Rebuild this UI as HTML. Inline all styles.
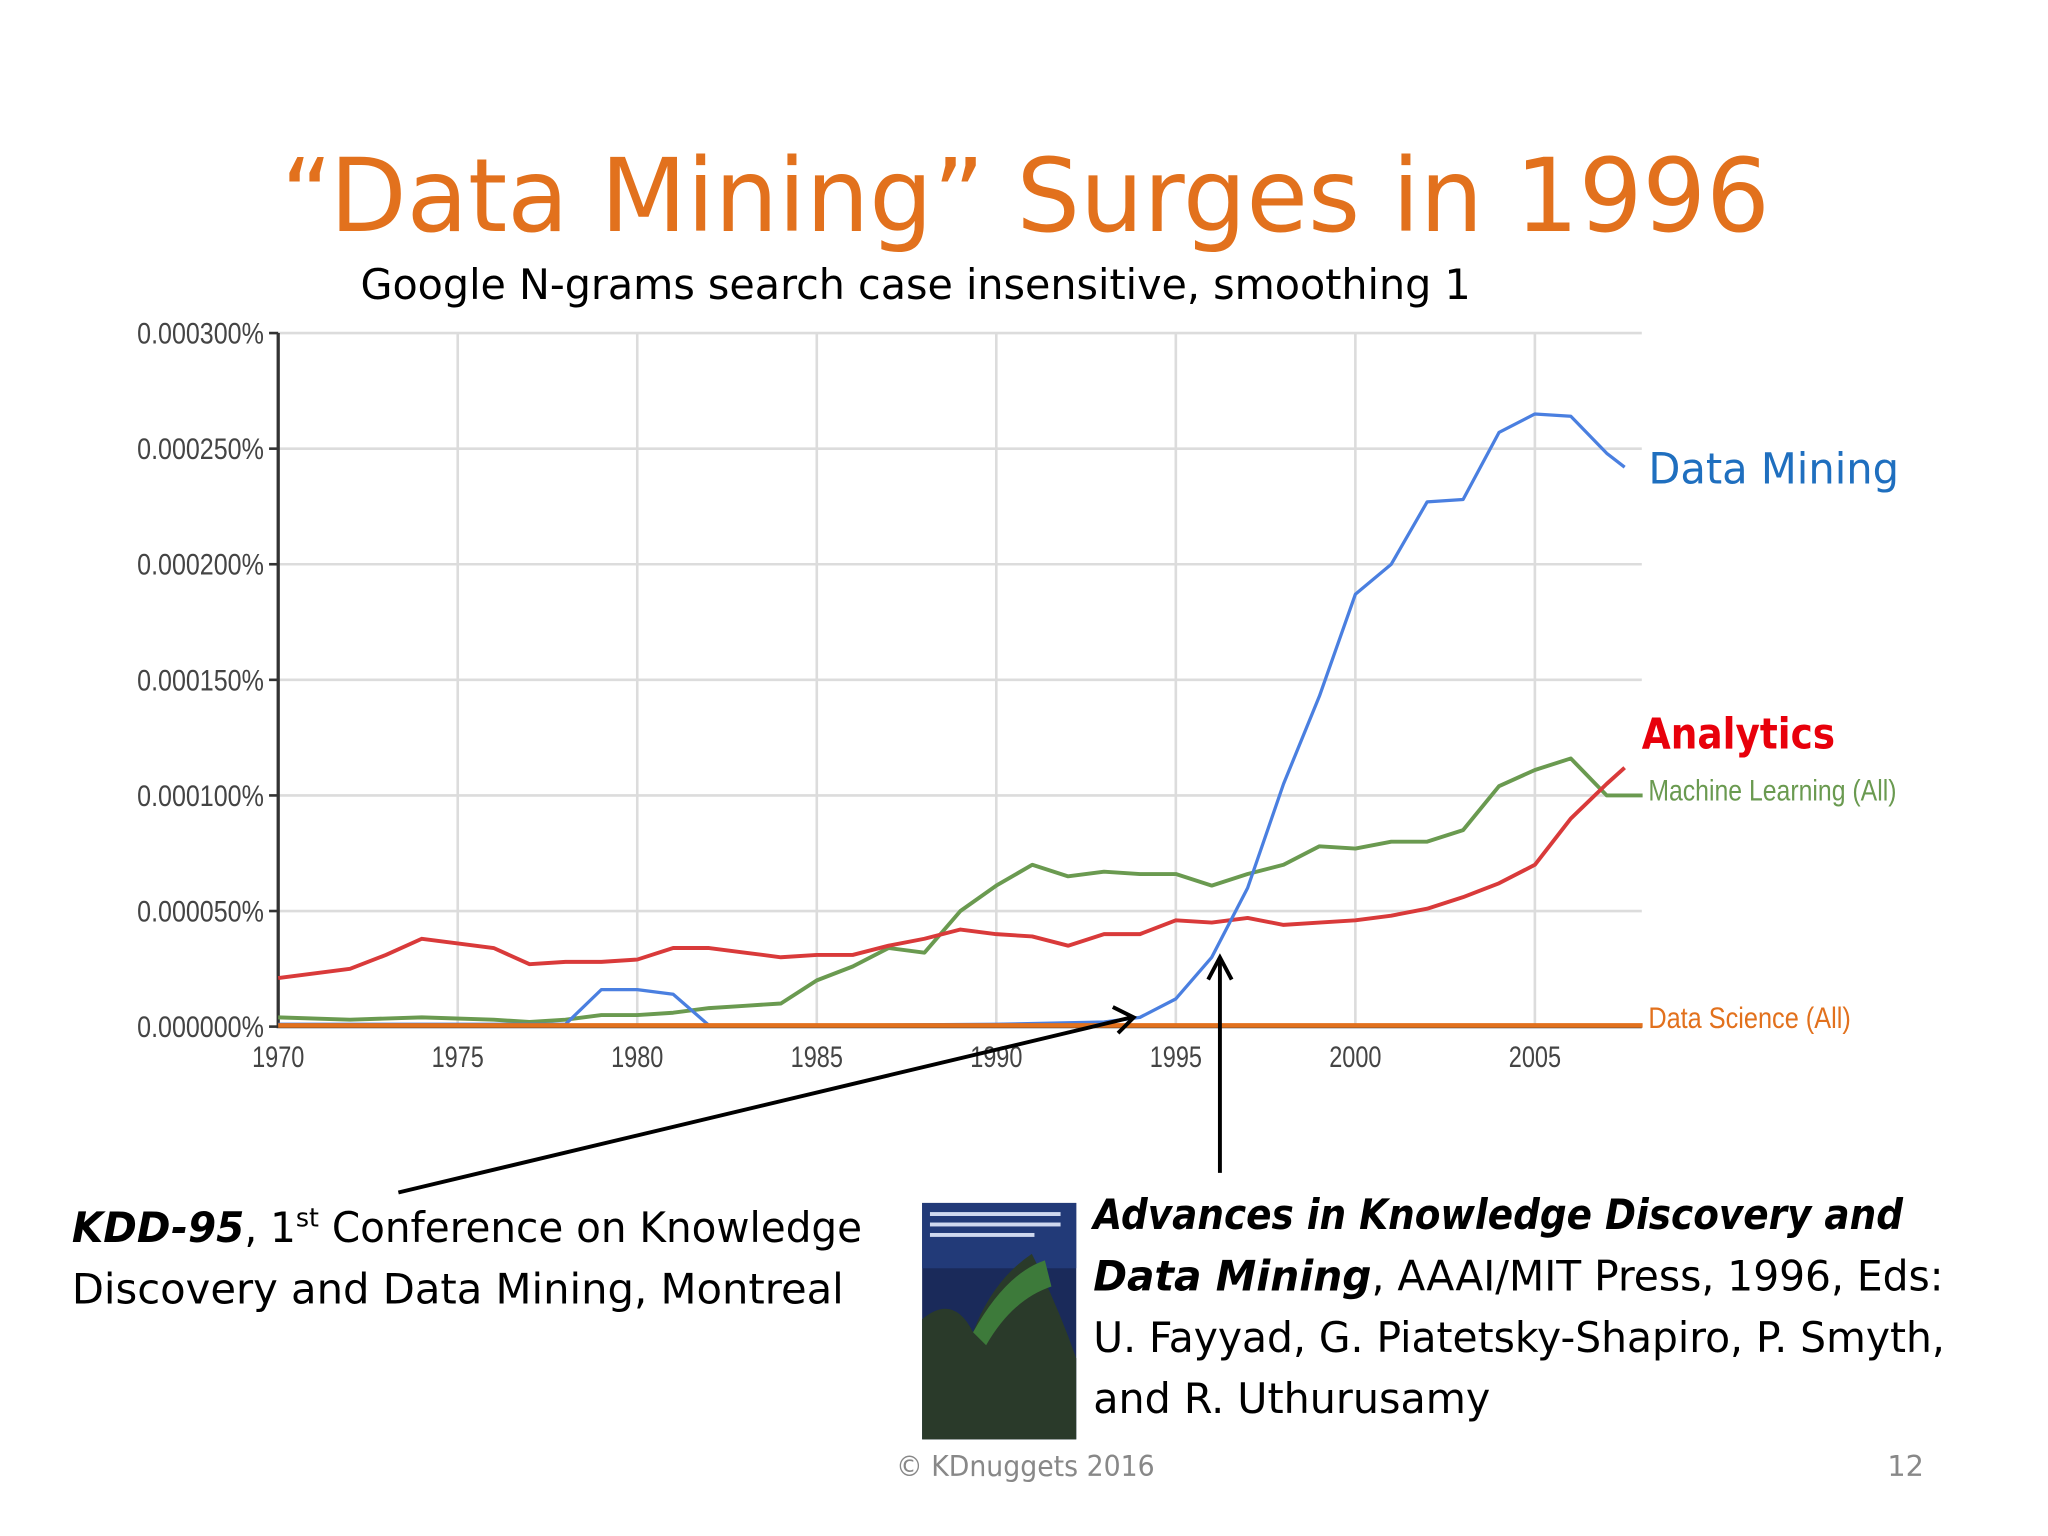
<!DOCTYPE html>
<html><head><meta charset="utf-8"><style>
html,body{margin:0;padding:0;background:#fff;}
svg{display:block;}
text{font-family:"Liberation Sans",sans-serif;}
.cal{font-family:"DejaVu Sans","Liberation Sans",sans-serif;}
</style></head><body>
<svg id="chart" width="2048" height="1536" viewBox="0 0 1568 1176" xmlns="http://www.w3.org/2000/svg">
<rect width="1568" height="1176" fill="#fff"/>
<text x="215" y="177" font-size="78" fill="#e2711d" class="cal" textLength="1140" lengthAdjust="spacingAndGlyphs">“Data Mining” Surges in 1996</text>
<text x="276" y="229" font-size="32" fill="#000" class="cal" textLength="850" lengthAdjust="spacingAndGlyphs">Google N-grams search  case insensitive, smoothing 1</text>
<g id="grid"></g>
<g id="axes"></g>
<g id="series"></g>
<text x="1262" y="370" font-size="33" fill="#1f6fbf" class="cal" textLength="192" lengthAdjust="spacingAndGlyphs">Data Mining</text>
<text x="1257" y="573" font-size="33" font-weight="bold" fill="#e8000b" class="cal" textLength="148" lengthAdjust="spacingAndGlyphs">Analytics</text>
<text x="1262" y="613" font-size="23" fill="#6a9a50" textLength="190" lengthAdjust="spacingAndGlyphs">Machine Learning (All)</text>
<text x="1262" y="787" font-size="23" fill="#e2711d" textLength="155" lengthAdjust="spacingAndGlyphs">Data Science (All)</text>
<g stroke="#000" stroke-width="3" fill="none">
<line x1="305" y1="913" x2="866" y2="779"/>
<polyline points="852,771 868,779 856,791"/>
</g>
<g stroke="#000" stroke-width="3" fill="none">
<line x1="934" y1="898" x2="934" y2="735"/>
<polyline points="925,750 934,733 943,750"/>
</g>
<text x="55" y="951" font-size="32" class="cal" textLength="605" lengthAdjust="spacingAndGlyphs"><tspan font-weight="bold" font-style="italic">KDD-95</tspan>, 1<tspan font-size="20" dy="-12">st</tspan><tspan dy="12"> Conference on Knowledge</tspan></text>
<text x="55" y="998" font-size="32" class="cal" textLength="591" lengthAdjust="spacingAndGlyphs">Discovery and Data Mining, Montreal</text>
<g>
<rect x="706" y="921" width="118" height="181" fill="#1a2a5a"/>
<rect x="706" y="921" width="118" height="50" fill="#223a78"/>
<path d="M706,1102 L706,1010 Q730,990 745,1020 Q760,980 790,960 Q810,1000 824,1040 L824,1102 Z" fill="#2a3a2a"/>
<path d="M745,1020 Q770,975 800,965 L805,985 Q775,995 755,1030 Z" fill="#3d7a3a"/>
<rect x="712" y="928" width="100" height="3" fill="#cfd8ee"/>
<rect x="712" y="936" width="100" height="3" fill="#cfd8ee"/>
<rect x="712" y="944" width="80" height="3" fill="#cfd8ee"/>
</g>
<text x="837" y="941" font-size="32" font-weight="bold" font-style="italic" class="cal" textLength="620" lengthAdjust="spacingAndGlyphs">Advances in Knowledge Discovery and</text>
<text x="837" y="988" font-size="32" class="cal" textLength="651" lengthAdjust="spacingAndGlyphs"><tspan font-weight="bold" font-style="italic">Data Mining</tspan>, AAAI/MIT Press, 1996, Eds:</text>
<text x="837" y="1035" font-size="32" class="cal" textLength="652" lengthAdjust="spacingAndGlyphs">U. Fayyad, G. Piatetsky-Shapiro, P. Smyth,</text>
<text x="837" y="1082" font-size="32" class="cal" textLength="304" lengthAdjust="spacingAndGlyphs">and R. Uthurusamy</text>
<text x="785" y="1130" text-anchor="middle" font-size="22" fill="#888" class="cal" textLength="198" lengthAdjust="spacingAndGlyphs">© KDnuggets 2016</text>
<text x="1473" y="1130" text-anchor="end" font-size="22" fill="#888" class="cal">12</text>
<script>
const yearsDM=[1970,1972,1974,1976,1978,1979,1980,1981,1982,1985,1990,1993,1994,1995,1996,1997,1998,1999,2000,2001,2002,2003,2004,2005,2006,2007,2007.5];
const dataMining=[1,1,1,1,1,16,16,14,0.5,0.5,1,2,4,12,30,60,105,143,187,200,227,228,257,265,264,248,242];
const yearsAn=[1970,1971,1972,1973,1974,1975,1976,1977,1978,1979,1980,1981,1982,1983,1984,1985,1986,1987,1988,1989,1990,1991,1992,1993,1994,1995,1996,1997,1998,1999,2000,2001,2002,2003,2004,2005,2006,2007,2007.5];
const analytics=[21,23,25,31,38,36,34,27,28,28,29,34,34,32,30,31,31,35,38,42,40,39,35,40,40,46,45,47,44,45,46,48,51,56,62,70,90,105,112];
const yearsML=[1970,1972,1974,1976,1977,1978,1979,1980,1981,1982,1983,1984,1985,1986,1987,1988,1989,1990,1991,1992,1993,1994,1995,1996,1997,1998,1999,2000,2001,2002,2003,2004,2005,2006,2007,2008];
const machineLearning=[4,3,4,3,2,3,5,5,6,8,9,10,20,26,34,32,50,61,70,65,67,66,66,61,66,70,78,77,80,80,85,104,111,116,100,100];
const yearsDS=[1970,2008];
const dataScience=[0.5,0.5];
const yTicks=[0,50,100,150,200,250,300];
const yTickLabels=["0.000000%","0.000050%","0.000100%","0.000150%","0.000200%","0.000250%","0.000300%"];
const xTicks=[1970,1975,1980,1985,1990,1995,2000,2005];

const NS="http://www.w3.org/2000/svg";
const X0=213,XPY=27.49,Y0=786,YPU=531/300;
function xs(y){return X0+(y-1970)*XPY;}
function ys(v){return Y0-v*YPU;}
function mk(tag,attrs,parent){const e=document.createElementNS(NS,tag);for(const k in attrs)e.setAttribute(k,attrs[k]);parent.appendChild(e);return e;}
const grid=document.getElementById('grid'),axes=document.getElementById('axes'),series=document.getElementById('series');
yTicks.forEach((t,i)=>{
  const l=mk('line',{x1:213,x2:1257,y1:ys(t),y2:ys(t),stroke:'#dcdcdc','stroke-width':2},grid);
  
  
  const tk=mk('line',{x1:206,x2:213,y1:ys(t),y2:ys(t),stroke:'#333','stroke-width':2},axes);
  
  
  const tx=mk('text',{x:202,y:ys(t)+8,'text-anchor':'end','font-size':23,fill:'#444',textLength:97,lengthAdjust:'spacingAndGlyphs'},axes);
  tx.textContent=yTickLabels[i];
  
  
});
xTicks.forEach(t=>{
  if(t>1970){const l=mk('line',{x1:xs(t),x2:xs(t),y1:255,y2:786,stroke:'#dcdcdc','stroke-width':2},grid);
  
  }
  const tx=mk('text',{x:xs(t),y:817,'text-anchor':'middle','font-size':23,fill:'#444',textLength:40,lengthAdjust:'spacingAndGlyphs'},axes);
  tx.textContent=t;
  
  
});
const ax=mk('polyline',{points:'213,255 213,786 1257,786',fill:'none',stroke:'#333','stroke-width':2.5},axes);


function line(xsArr,vals,color,w,name){
  const p=mk('polyline',{points:xsArr.map((y,i)=>xs(y)+','+ys(vals[i])).join(' '),fill:'none',stroke:color,'stroke-width':w,'stroke-linejoin':'round'},series);
  
  
}
line(yearsML,machineLearning,'#6a9a50',3,'machine-learning-line');
line(yearsAn,analytics,'#d93a3a',3,'analytics-line');
line(yearsDM,dataMining,'#4a7fe0',2.5,'data-mining-line');
line(yearsDS,dataScience,'#e2711d',3.5,'data-science-line');
</script>
</svg>
</body></html>
